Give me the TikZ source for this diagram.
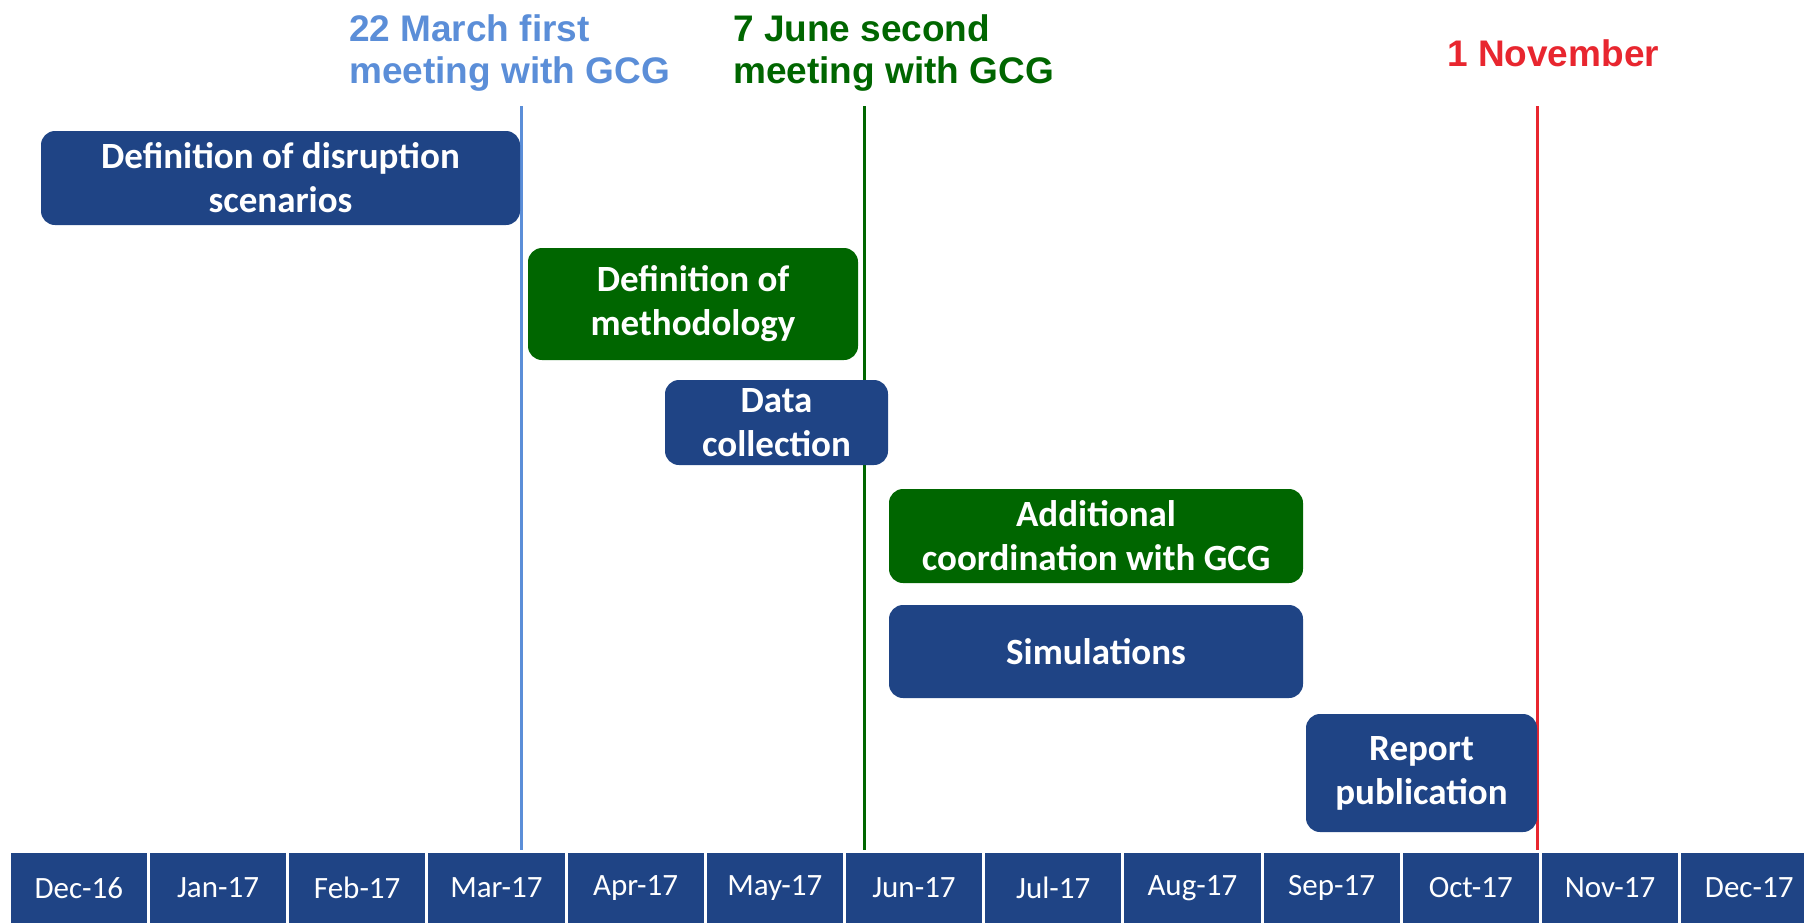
\documentclass[tikz,border=0pt]{standalone}
\usepackage{fontspec}
\setmainfont{Carlito}
\newfontfamily\milefont{Liberation Sans}
\usepackage{tikz}
\definecolor{taskblue}{HTML}{1F4485}
\definecolor{taskgreen}{HTML}{006600}
\definecolor{mileblue}{HTML}{5B8ED8}
\definecolor{milegreen}{HTML}{006600}
\definecolor{milered}{HTML}{E8262F}
\tikzset{
  monthcell/.style={rectangle, draw=white, line width=3pt, fill=taskblue, minimum width=139.2pt, minimum height=74pt, inner sep=0pt, text=white, font=\fontsize{31}{37}\selectfont},
  task/.style={rectangle, rounded corners=14pt, text=white, align=center, inner sep=0pt, font=\bfseries\fontsize{37}{44}\selectfont},
  milelabel/.style={anchor=north west, inner sep=0pt, align=left, font=\milefont\bfseries\fontsize{37}{42}\selectfont},
  mileline/.style={line width=3pt}
}
\newcommand{\gtmonth}[3] {\node at (#1) (#2) [monthcell] {#3};}
\newcommand{\gttask}[6] {\node at (#1) (#2) [task, fill=#3, minimum width=#4, minimum height=#5] {#6};}
\newcommand{\gtmilestone}[3] {\draw [mileline, #3] (#1) -- (#1 |- #2);}

\begin{document}
\begin{tikzpicture}[x=1pt, y=-1pt]
\useasboundingbox (0,0) rectangle (1804,922);
\clip (0,0) rectangle (1804,922);

\coordinate (axis) at (0,854);
\coordinate (mar22) at (521,106);
\coordinate (jun7) at (864,106);
\coordinate (nov1) at (1537,106);

\gtmilestone {mar22}{axis}{mileblue};
\gtmilestone {jun7}{axis}{milegreen};
\gtmilestone {nov1}{axis}{milered};

\gtmonth {78.8,888} {dec16} {Dec-16};
\gtmonth {218.0,888} {jan17} {Jan-17};
\gtmonth {357.2,888} {feb17} {Feb-17};
\gtmonth {496.4,888} {mar17} {Mar-17};
\gtmonth {635.6,888} {apr17} {Apr-17};
\gtmonth {774.8,888} {may17} {May-17};
\gtmonth {914.0,888} {jun17} {Jun-17};
\gtmonth {1053.2,888} {jul17} {Jul-17};
\gtmonth {1192.4,888} {aug17} {Aug-17};
\gtmonth {1331.6,888} {sep17} {Sep-17};
\gtmonth {1470.8,888} {oct17} {Oct-17};
\gtmonth {1610.0,888} {nov17} {Nov-17};
\gtmonth {1749.2,888} {dec17} {Dec-17};

\gttask {280.5,178} {disruption} {taskblue} {479pt} {94pt} {Definition of disruption\\scenarios};
\gttask {693,304} {methodology} {taskgreen} {330pt} {112pt} {Definition of\\methodology};
\gttask {776.5,422.5} {datacoll} {taskblue} {223pt} {85pt} {Data\\collection};
\gttask {1096,536} {coordination} {taskgreen} {414pt} {94pt} {Additional\\coordination with GCG};
\gttask {1096,651.5} {simulations} {taskblue} {414pt} {93pt} {Simulations};
\gttask {1421.5,773} {report} {taskblue} {231pt} {118pt} {Report\\publication};

\node at (349,14) (mar22label) [milelabel, text=mileblue] {22 March first\\meeting with GCG};
\node at (733,14) (jun7label) [milelabel, text=milegreen] {7 June second\\meeting with GCG};
\node at (1447,39) (nov1label) [milelabel, text=milered] {1 November};

%\node at (900,0) {timeline};
\end{tikzpicture}
\end{document}
